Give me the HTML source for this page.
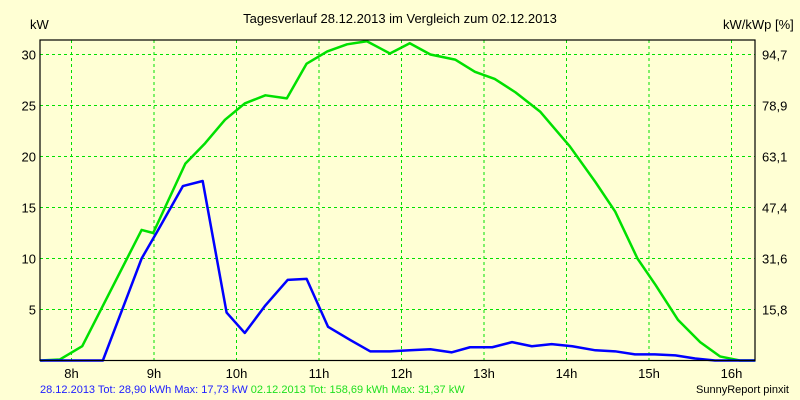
<!DOCTYPE html>
<html><head><meta charset="utf-8"><style>
body{margin:0;background:#ffffd4;}
svg{display:block;font-family:"Liberation Sans",sans-serif;}
</style></head><body>
<svg id="c" width="800" height="400">
<rect width="800" height="400" fill="#ffffd4"/>
<text x="400" y="23" font-size="13" text-anchor="middle">Tagesverlauf 28.12.2013 im Vergleich zum 02.12.2013</text>
<text x="30" y="29" font-size="13">kW</text>
<text x="723" y="29" font-size="13">kW/kWp [%]</text>
<g id="grid"></g><g id="series"></g><g id="axes"></g>
<text x="40" y="393" font-size="11"><tspan fill="#2020ff">28.12.2013 Tot: 28,90 kWh Max: 17,73 kW</tspan><tspan fill="#20e020"> 02.12.2013 Tot: 158,69 kWh Max: 31,37 kW</tspan></text>
<text x="789" y="393" font-size="11" text-anchor="end">SunnyReport pinxit</text>
</svg>
<script>
const hourTicks=[8,9,10,11,12,13,14,15,16];
const kwTicks=[5,10,15,20,25,30];
const pctLabels=["15,8","31,6","47,4","63,1","78,9","94,7"];
const greenH=[7.62,7.86,8.13,8.85,8.99,9.38,9.62,9.86,10.10,10.35,10.61,10.85,11.10,11.34,11.58,11.86,12.10,12.35,12.65,12.89,13.13,13.38,13.68,14.04,14.35,14.59,14.86,15.08,15.35,15.62,15.86,16.10,16.29];
const greenKW=[0,0.1,1.4,12.8,12.5,19.3,21.3,23.6,25.2,26.0,25.7,29.1,30.3,31.0,31.3,30.1,31.1,30.0,29.5,28.3,27.6,26.3,24.4,21.0,17.5,14.6,10.0,7.4,4.0,1.8,0.4,0,0];
const blueH=[7.62,8.38,8.85,9.05,9.35,9.59,9.88,10.10,10.35,10.62,10.85,11.11,11.38,11.62,11.86,12.10,12.35,12.61,12.83,13.10,13.34,13.58,13.82,14.07,14.35,14.59,14.83,15.07,15.32,15.56,15.80,16.29];
const blueKW=[0,0,10.0,12.8,17.1,17.6,4.7,2.7,5.4,7.9,8.0,3.3,2.0,0.9,0.9,1.0,1.1,0.8,1.3,1.3,1.8,1.4,1.6,1.4,1.0,0.9,0.6,0.6,0.5,0.2,0,0];
const L=40,R=755,T=40,B=360.5;
const xs=h=>71.5+(h-8)*82.5;
const ys=v=>B-v*10.2;
const NS="http://www.w3.org/2000/svg";
function mk(tag,attrs,parent,txt){const e=document.createElementNS(NS,tag);for(const k in attrs)e.setAttribute(k,attrs[k]);if(txt!==undefined)e.textContent=txt;parent.appendChild(e);return e;}
const grid=document.getElementById('grid'),axes=document.getElementById('axes'),series=document.getElementById('series');
hourTicks.forEach(h=>{
 const l=mk('line',{x1:xs(h),x2:xs(h),y1:T,y2:B,stroke:'#00e000','stroke-dasharray':'3,3'},grid);
 
 
 const t=mk('text',{x:xs(h),y:378,'font-size':13,'text-anchor':'middle'},axes,h+'h');
 
 
});
kwTicks.forEach((v,i)=>{
 const l=mk('line',{x1:L,x2:R,y1:ys(v),y2:ys(v),stroke:'#00e000','stroke-dasharray':'3,3'},grid);
 
 
 const t=mk('text',{x:36,y:ys(v)+5,'font-size':13,'text-anchor':'end'},axes,String(v));
 
 
 const t2=mk('text',{x:762,y:ys(v)+5,'font-size':13},axes,pctLabels[i]);
 
 
});
const frame=mk('rect',{x:L,y:T,width:R-L,height:B-T,fill:'none',stroke:'#000','stroke-width':1.2},axes);


function line(H,V,col,name){
 const p=mk('polyline',{points:H.map((h,i)=>xs(h)+','+ys(V[i])).join(' '),fill:'none',stroke:col,'stroke-width':2.5,'stroke-linejoin':'round'},series);
 
 
}
line(greenH,greenKW,'#00e000','series-02-12-2013');
line(blueH,blueKW,'#0000ff','series-28-12-2013');
</script>
</body></html>
